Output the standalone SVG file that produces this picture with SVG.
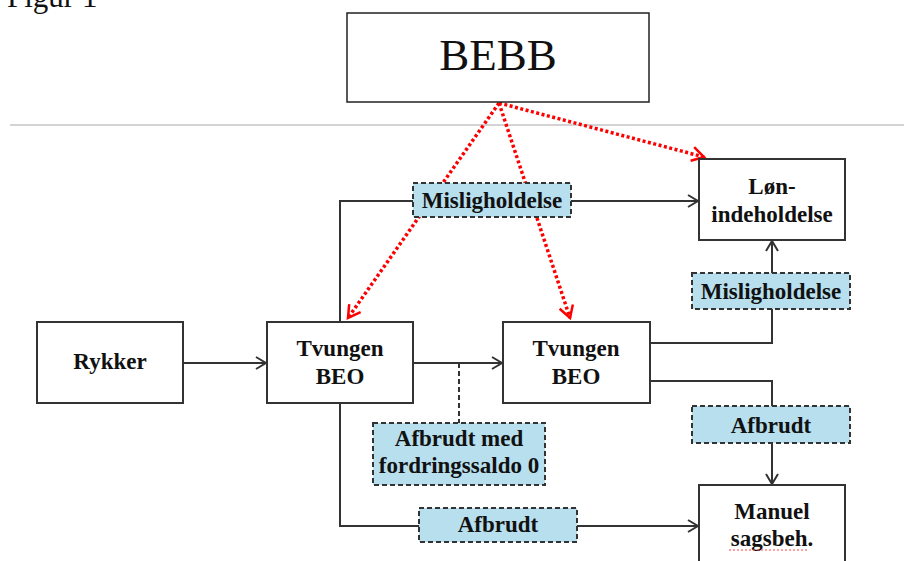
<svg xmlns="http://www.w3.org/2000/svg" width="904" height="561" viewBox="0 0 904 561">
<defs>
<marker id="ah" markerWidth="14" markerHeight="14" refX="11" refY="7" orient="auto" markerUnits="userSpaceOnUse">
<path d="M1,1 L11,7 L1,13" fill="none" stroke="#333" stroke-width="2"/>
</marker>
<marker id="ahr" markerWidth="16" markerHeight="16" refX="13" refY="8" orient="auto" markerUnits="userSpaceOnUse">
<path d="M1,1 L13,8 L1,15" fill="none" stroke="#f00" stroke-width="2.5"/>
</marker>
</defs>
<style>
.box{fill:#fff;stroke:#333;stroke-width:2}
.lbl{fill:#b7dfee;stroke:#333;stroke-width:2;stroke-dasharray:5 3}
.t{font-family:"Liberation Serif","Times New Roman",serif;font-weight:bold;font-size:23px;fill:#111;text-anchor:middle}
.c{fill:none;stroke:#333;stroke-width:2}
.r{fill:none;stroke:#f00;stroke-width:3.5;stroke-dasharray:3 2.5}
</style>
<rect width="904" height="561" fill="#fff"/>
<text x="7" y="7" font-family="Liberation Serif,'Times New Roman',serif" font-size="31" fill="#111">Figur 1</text>
<line x1="10" y1="125" x2="904" y2="125" stroke="#c4c4c4" stroke-width="1.5"/>

<g id="connectors">
<line class="c" x1="183" y1="363" x2="266" y2="363" marker-end="url(#ah)"/>
<line class="c" x1="413" y1="363" x2="502" y2="363" marker-end="url(#ah)"/>
<line class="c" x1="459" y1="363" x2="459" y2="423" stroke-dasharray="5 3"/>
<polyline class="c" points="340,322 340,201 698,201" marker-end="url(#ah)"/>
<polyline class="c" points="340,403 340,526 698,526" marker-end="url(#ah)"/>
<polyline class="c" points="650,343 772,343 772,241" marker-end="url(#ah)"/>
<polyline class="c" points="650,381 772,381 772,484" marker-end="url(#ah)"/>
<line class="r" x1="499" y1="103" x2="348" y2="318" marker-end="url(#ahr)"/>
<line class="r" x1="499" y1="103" x2="570" y2="318" marker-end="url(#ahr)"/>
<line class="r" x1="499" y1="103" x2="704" y2="157" marker-end="url(#ahr)"/>
</g>

<g id="bebb">
<rect x="347" y="13" width="302" height="89" fill="#fff" stroke="#222" stroke-width="1.5"/>
<text x="498" y="70" font-family="Liberation Serif,'Times New Roman',serif" font-size="45" fill="#111" text-anchor="middle">BEBB</text>
</g>
<g id="rykker">
<rect class="box" x="37" y="322" width="146" height="81"/>
<text class="t" x="110" y="369">Rykker</text>
</g>
<g id="beo1">
<rect class="box" x="267" y="322" width="146" height="81"/>
<text class="t" x="340" y="356">Tvungen</text>
<text class="t" x="340" y="384">BEO</text>
</g>
<g id="beo2">
<rect class="box" x="503" y="322" width="147" height="81"/>
<text class="t" x="576" y="356">Tvungen</text>
<text class="t" x="576" y="384">BEO</text>
</g>
<g id="lon">
<rect class="box" x="699" y="159" width="146" height="81"/>
<text class="t" x="772" y="194">Løn-</text>
<text class="t" x="772" y="222">indeholdelse</text>
</g>
<g id="manuel">
<rect class="box" x="699" y="485" width="146" height="90"/>
<text class="t" x="772" y="519">Manuel</text>
<text class="t" x="772" y="546">sagsbeh.</text>
<line x1="729" y1="550" x2="808" y2="550" stroke="#f44" stroke-width="1" stroke-dasharray="2 2"/>
</g>
<g id="lbl-mis1">
<rect class="lbl" x="413" y="183" width="158" height="34"/>
<text class="t" x="492" y="208">Misligholdelse</text>
</g>
<g id="lbl-mis2">
<rect class="lbl" x="692" y="273" width="158" height="36"/>
<text class="t" x="771" y="299">Misligholdelse</text>
</g>
<g id="lbl-afb1">
<rect class="lbl" x="373" y="423" width="172" height="62"/>
<text class="t" x="459" y="446">Afbrudt med</text>
<text class="t" x="459" y="473">fordringssaldo 0</text>
</g>
<g id="lbl-afb2">
<rect class="lbl" x="692" y="406" width="158" height="37"/>
<text class="t" x="771" y="433">Afbrudt</text>
</g>
<g id="lbl-afb3">
<rect class="lbl" x="419" y="508" width="158" height="34"/>
<text class="t" x="498" y="532">Afbrudt</text>
</g>
</svg>
